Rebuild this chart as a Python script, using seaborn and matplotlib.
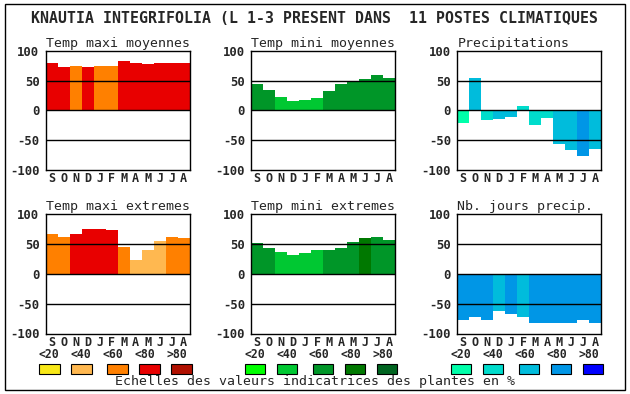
import numpy as np
import pandas as pd
import seaborn as sns
import matplotlib.pyplot as plt
from matplotlib.patches import Rectangle

sns.set_style("white")
plt.rcParams["font.family"] = ["DejaVu Sans Mono", "DejaVu Sans"]

# data
months = ["S", "O", "N", "D", "J", "F", "M", "A", "M", "J", "J", "A"]

tmax_moy = [80, 73, 75, 73, 75, 75, 82, 80, 77, 80, 80, 80]
tmax_moy_cls = [3, 3, 2, 3, 2, 2, 3, 3, 3, 3, 3, 3]
tmin_moy = [45, 35, 23, 15, 17, 20, 33, 45, 50, 53, 60, 55]
tmin_moy_cls = [2, 2, 1, 1, 1, 1, 2, 2, 2, 2, 2, 2]
precip = [-21, 55, -16, -14, -11, 7, -24, -13, -56, -66, -76, -65]
precip_cls = [0, 2, 1, 2, 2, 1, 1, 1, 2, 2, 3, 2]
tmax_ext = [67, 62, 67, 75, 75, 73, 45, 23, 40, 55, 62, 60]
tmax_ext_cls = [2, 2, 3, 3, 3, 3, 2, 1, 1, 1, 2, 2]
tmin_ext = [52, 43, 37, 32, 35, 40, 40, 43, 53, 60, 62, 57]
tmin_ext_cls = [2, 2, 1, 1, 1, 1, 2, 2, 2, 3, 2, 2]
njours = [-77, -73, -77, -63, -67, -72, -83, -83, -83, -82, -78, -82]
njours_cls = [3, 3, 3, 2, 3, 2, 3, 3, 3, 3, 3, 3]

scale_labels = ["<20", "<40", "<60", "<80", ">80"]
reds = ["#f8e818", "#ffb850", "#ff8000", "#e80000", "#b01000"]
greens = ["#00ff00", "#00c832", "#009628", "#007800", "#006420"]
blues = ["#00ffaa", "#00dccc", "#00bcdc", "#0096e6", "#0000ff"]

title = "KNAUTIA INTEGRIFOLIA (L 1-3 PRESENT DANS  11 POSTES CLIMATIQUES"

W, H = 630, 394
fig = plt.figure(figsize=(W / 100, H / 100), dpi=100)


def px_axes(left, top, w, h):
    return fig.add_axes([left / W, (H - top - h) / H, w / W, h / H])


panels = [
    ("Temp maxi moyennes", tmax_moy, tmax_moy_cls, reds, 45.7, 50.7),
    ("Temp mini moyennes", tmin_moy, tmin_moy_cls, greens, 251.3, 50.7),
    ("Precipitations", precip, precip_cls, blues, 457.3, 50.7),
    ("Temp maxi extremes", tmax_ext, tmax_ext_cls, reds, 45.7, 214),
    ("Temp mini extremes", tmin_ext, tmin_ext_cls, greens, 251.3, 214),
    ("Nb. jours precip.", njours, njours_cls, blues, 457.3, 214),
]

for name, vals, cls, pal, left, top in panels:
    ax = px_axes(left, top, 144, 119.5)
    df = pd.DataFrame({"pos": [str(i) for i in range(12)], "val": vals})
    colors = {str(i): pal[c] for i, c in enumerate(cls)}
    sns.barplot(data=df, x="pos", y="val", hue="pos", palette=colors,
                width=1, saturation=1, legend=False, linewidth=0, ax=ax)
    for y in (-50, 0, 50):
        ax.axhline(y, color="black", lw=1.0, zorder=3)
    ax.set_xlim(-0.5, 11.5)
    ax.set_ylim(-100, 100)
    ax.set_xticks(range(12))
    ax.set_xticklabels(months, fontweight="bold", fontsize=8.5)
    ax.set_yticks([-100, -50, 0, 50, 100])
    ax.set_yticklabels(["-100", "-50", "0", "50", "100"], fontweight="bold", fontsize=8.8)
    ax.tick_params(length=0)
    ax.tick_params(axis="x", pad=1.5)
    ax.tick_params(axis="y", pad=4.5)
    ax.set_xlabel("")
    ax.set_ylabel("")
    for s in ax.spines.values():
        s.set_color("black")
        s.set_linewidth(1.0)
    ax.set_title(name, fontsize=9.5, pad=3, loc="left")

# colour scale legends under each column
for pal, left in [(reds, 45.7), (greens, 251.3), (blues, 457.3)]:
    for i, (lab, col) in enumerate(zip(scale_labels, pal)):
        fig.text((left + 3.3 + 32 * i) / W, 1 - 354 / H, lab, ha="center", va="center",
                 fontsize=8.3, fontweight="bold")
        bx = [-6.7, 25.3, 61.3, 93.3, 125.3][i]
        fig.add_artist(Rectangle(((left + bx) / W, 1 - 373.7 / H), 20.7 / W, 9.7 / H,
                                 facecolor=col, edgecolor="black", lw=0.8,
                                 transform=fig.transFigure))

fig.text(31 / W, 1 - 18.3 / H, title, ha="left", va="center",
         fontsize=10.7, fontweight="bold")
fig.text(315 / W, 1 - 382 / H, "Echelles des valeurs indicatrices des plantes en %",
         ha="center", va="center", fontsize=9.5)

fig.add_artist(Rectangle((4.5 / W, 1 - 390 / H), 620.5 / W, 386 / H, fill=False,
                         edgecolor="black", lw=1.0, transform=fig.transFigure))

fig.savefig("out.png", dpi=100, facecolor="white")
